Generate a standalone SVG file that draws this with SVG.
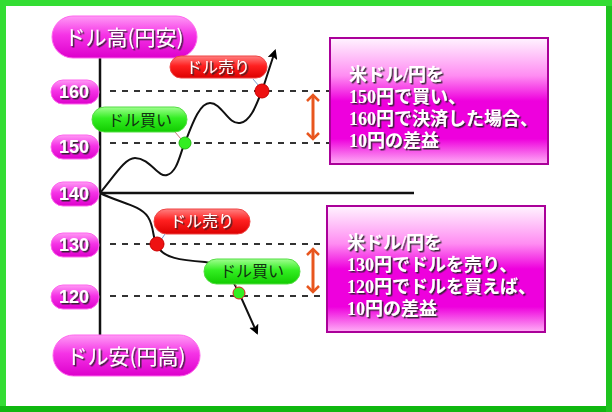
<svg xmlns="http://www.w3.org/2000/svg" width="612" height="412" viewBox="0 0 612 412">
<defs>
<linearGradient id="gPink" x1="0" y1="0" x2="0" y2="1">
<stop offset="0" stop-color="#ff9af5"/><stop offset="0.45" stop-color="#f533e6"/><stop offset="1" stop-color="#dd00cc"/>
</linearGradient>
<linearGradient id="gRed" x1="0" y1="0" x2="0" y2="1">
<stop offset="0" stop-color="#ff8080"/><stop offset="0.45" stop-color="#ff2020"/><stop offset="1" stop-color="#dd0000"/>
</linearGradient>
<linearGradient id="gGreen" x1="0" y1="0" x2="0" y2="1">
<stop offset="0" stop-color="#a0ff90"/><stop offset="0.45" stop-color="#33ee22"/><stop offset="1" stop-color="#11cc00"/>
</linearGradient>
<linearGradient id="gBox" x1="0" y1="0" x2="0" y2="1">
<stop offset="0" stop-color="#fff4ff"/><stop offset="0.3" stop-color="#ff8cf2"/><stop offset="0.5" stop-color="#ee00dd"/><stop offset="0.8" stop-color="#ee00dd"/><stop offset="1" stop-color="#ffb0f6"/>
</linearGradient>
<filter id="sh" x="-10%" y="-20%" width="130%" height="150%">
<feDropShadow dx="1.5" dy="1.5" stdDeviation="0.3" flood-color="#222" flood-opacity="0.9"/>
</filter>
<marker id="ah" viewBox="0 0 10 10" refX="8" refY="5" markerWidth="10" markerHeight="10" markerUnits="userSpaceOnUse" orient="auto">
<path d="M0,0 L10,5 L0,10 L2,5 Z" fill="#000"/>
</marker>
<marker id="oa" viewBox="0 0 10 14" refX="6" refY="7" markerWidth="10" markerHeight="16" markerUnits="userSpaceOnUse" orient="auto-start-reverse">
<path d="M1,1 L7,7 L1,13" fill="none" stroke="#e8561e" stroke-width="2.5"/>
</marker>
<style>
.pill{fill:url(#gPink);stroke:#ff66ee;stroke-width:1}
.wt{fill:#fff;font-family:"Noto Sans CJK JP",sans-serif;filter:url(#sh)}
.num{fill:#fff;font-family:"Liberation Sans",Arial,sans-serif;font-weight:bold;font-size:18px;text-anchor:middle;filter:url(#sh)}
.dash{stroke:#333;stroke-width:2;stroke-dasharray:6 6;fill:none}
.axis{stroke:#111;stroke-width:2.5;fill:none}
.curve{stroke:#111;stroke-width:2;fill:none}
.box{fill:url(#gBox);stroke-width:2}
.bt{fill:#fff;font-family:"Liberation Serif","Noto Sans CJK JP",serif;font-size:18px;font-weight:bold;filter:url(#sh)}
.lbl{font-family:"Noto Sans CJK JP",sans-serif;font-size:16px;text-anchor:middle}
</style>
</defs>
<rect x="0" y="0" width="612" height="412" fill="#fff"/>
<g id="frame">
<rect x="3" y="3" width="606" height="406" fill="none" stroke="#33dd33" stroke-width="6"/>
<line x1="0" y1="409" x2="612" y2="409" stroke="#10b810" stroke-width="6"/>
<line x1="609" y1="6" x2="609" y2="412" stroke="#1ec31e" stroke-width="6"/>
</g>
<g id="connectors">
<line class="axis" x1="100" y1="57" x2="100" y2="335"/>
<line class="axis" x1="100" y1="193" x2="414" y2="193"/>
<line class="dash" x1="110" y1="91" x2="330" y2="91"/>
<line class="dash" x1="110" y1="143" x2="330" y2="143"/>
<line class="dash" x1="110" y1="244" x2="330" y2="244"/>
<line class="dash" x1="110" y1="296" x2="330" y2="296"/>
<path class="curve" marker-end="url(#ah)" d="M100,193 C115,175 125,158 135,158 C150,158 158,178 167,175 C178,172 180,152 186,140 C193,122 200,103 210,103 C222,103 228,125 240,123 C252,121 258,100 263,88 L275,51"/>
<path class="curve" marker-end="url(#ah)" d="M100,193 C120,203 140,205 148,217 C155,228 152,240 158,247 C164,258 180,260 205,262 C225,264 232,278 240,295 L257,333"/>
<line x1="313" y1="96" x2="313" y2="138" stroke="#e8561e" stroke-width="3" marker-start="url(#oa)" marker-end="url(#oa)"/>
<line x1="313" y1="250" x2="313" y2="291" stroke="#e8561e" stroke-width="3" marker-start="url(#oa)" marker-end="url(#oa)"/>
<line x1="253" y1="79" x2="259" y2="86" stroke="#7799cc" stroke-width="1"/>
<line x1="175" y1="132" x2="181" y2="139" stroke="#cc7777" stroke-width="1"/>
<line x1="165" y1="234" x2="161" y2="240" stroke="#7799cc" stroke-width="1"/>
<line x1="235" y1="284" x2="238" y2="289" stroke="#cc7777" stroke-width="1"/>
</g>
<g id="dots">
<circle cx="262" cy="91" r="7" fill="#ee1111" stroke="#cc0000"/>
<circle cx="185" cy="143" r="6" fill="#33ee22" stroke="#22bb11"/>
<circle cx="157" cy="244" r="7" fill="#ee1111" stroke="#cc0000"/>
<circle cx="239" cy="293" r="6" fill="#33ee22" stroke="#dd2222"/>
</g>
<g id="top-label">
<rect class="pill" x="52" y="16" width="145" height="42" rx="21"/>
<text class="wt" x="124" y="45" font-size="21" text-anchor="middle">ドル高(円安)</text>
</g>
<g id="bottom-label">
<rect class="pill" x="53" y="335" width="147" height="41" rx="20.5"/>
<text class="wt" x="126" y="364" font-size="21" text-anchor="middle">ドル安(円高)</text>
</g>
<g id="n160"><rect class="pill" x="51" y="80" width="48" height="24" rx="12"/><text class="num" x="74" y="98">160</text></g>
<g id="n150"><rect class="pill" x="51" y="135" width="48" height="24" rx="12"/><text class="num" x="74" y="153">150</text></g>
<g id="n140"><rect class="pill" x="51" y="182" width="48" height="24" rx="12"/><text class="num" x="74" y="200">140</text></g>
<g id="n130"><rect class="pill" x="51" y="233" width="48" height="24" rx="12"/><text class="num" x="74" y="251">130</text></g>
<g id="n120"><rect class="pill" x="51" y="285" width="48" height="24" rx="12"/><text class="num" x="74" y="303">120</text></g>
<g id="sell-top"><rect x="170" y="56" width="97" height="22" rx="11" fill="url(#gRed)" stroke="#ee4444"/><text class="lbl" x="218" y="73" fill="#fff" filter="url(#sh)">ドル売り</text></g>
<g id="buy-top"><rect x="92" y="107" width="95" height="25" rx="12.5" fill="url(#gGreen)" stroke="#55dd44"/><text class="lbl" x="140" y="126" fill="#113311">ドル買い</text></g>
<g id="sell-bottom"><rect x="154" y="209" width="96" height="25" rx="12.5" fill="url(#gRed)" stroke="#ee4444"/><text class="lbl" x="202" y="227" fill="#fff" filter="url(#sh)">ドル売り</text></g>
<g id="buy-bottom"><rect x="204" y="259" width="96" height="25" rx="12.5" fill="url(#gGreen)" stroke="#55dd44"/><text class="lbl" x="252" y="277" fill="#113311">ドル買い</text></g>
<g id="box1">
<rect class="box" x="330" y="38" width="218" height="126" stroke="#aa0099"/>
<text class="bt" x="349" y="81">米ドル/円を</text>
<text class="bt" x="349" y="103">150円で買い、</text>
<text class="bt" x="349" y="125">160円で決済した場合、</text>
<text class="bt" x="349" y="147">10円の差益</text>
</g>
<g id="box2">
<rect class="box" x="327" y="206" width="218" height="126" stroke="#aa0099"/>
<text class="bt" x="347" y="249">米ドル/円を</text>
<text class="bt" x="347" y="271">130円でドルを売り、</text>
<text class="bt" x="347" y="293">120円でドルを買えば、</text>
<text class="bt" x="347" y="315">10円の差益</text>
</g>
</svg>
